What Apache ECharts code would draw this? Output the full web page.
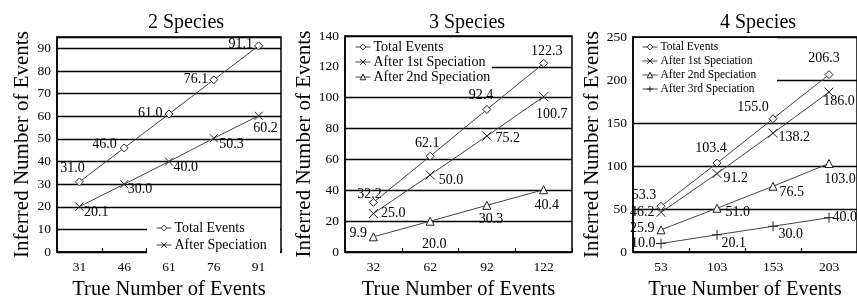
<!DOCTYPE html>
<html>
<head>
<meta charset="UTF-8">
<script src="https://cdn.jsdelivr.net/npm/echarts@6/dist/echarts.min.js"></script>
<style>
  html, body { margin: 0; padding: 0; background: #fff; }
  #chart { width: 857px; height: 305px; }
</style>
</head>
<body>
<div id="chart"></div>
<script>
// 2 species
var cats2 = ['31', '46', '61', '76', '91'];
var total2 = [31.0, 46.0, 61.0, 76.1, 91.1];
var after2 = [20.1, 30.0, 40.0, 50.3, 60.2];
// 3 species
var cats3 = ['32', '62', '92', '122'];
var total3 = [32.2, 62.1, 92.4, 122.3];
var first3 = [25.0, 50.0, 75.2, 100.7];
var second3 = [9.9, 20.0, 30.3, 40.4];
// 4 species
var cats4 = ['53', '103', '153', '203'];
var total4 = [53.3, 103.4, 155.0, 206.3];
var first4 = [46.2, 91.2, 138.2, 186.0];
var second4 = [25.9, 51.0, 76.5, 103.0];
var third4 = [10.0, 20.1, 30.0, 40.0];

var FONT = 'Liberation Serif';
var INK = '#000';
var LINE = '#444';

var crossPath = 'path://M0,0L10,10M10,0L0,10';
var plusPath = 'path://M5,0L5,10M0,5L10,5';

// label placement per point: [position, dx, dy, gap from point centre]
var lab = {
  total2: [['top', -7, 0, 6], ['left', 0, -4, 7], ['left', 0, -1, 6], ['left', 0, 0, 5], ['left', 0, -2, 5]],
  after2: [['right', 0, 6, 4], ['right', 0, 5, 3], ['right', 0, 6, 4], ['right', 0, 6, 5], ['bottom', 7, 0, 5.5]],
  total3: [['top', -4, 0, 1], ['top', -3, 0, 5.5], ['top', -6, 0, 7], ['top', 3, 0, 4]],
  first3: [['right', 0, 0, 7], ['right', 0, 5, 8], ['right', 0, 2, 8], ['bottom', 8, 0, 10]],
  second3: [['left', 0, -3, 6], ['bottom', 4, 0, 16], ['bottom', 4, 0, 6], ['bottom', 3, 0, 8]],
  total4: [['top', -17, 0, 3], ['top', -6, 0, 7], ['top', -20, 0, 3.5], ['top', -5, 0, 8.5]],
  first4: [['left', 0, 0, 6], ['right', 0, 5, 6], ['right', 0, 4, 5], ['bottom', 10, 0, 2]],
  second4: [['left', 0, -1, 6], ['right', 0, 4, 8], ['right', 0, 6, 6], ['bottom', 11, 0, 8.5]],
  third4: [['left', 0, 0, 5], ['right', 0, 9, 4], ['right', 0, 8, 5], ['right', 0, 0, 3]]
};

function points(values, place, size) {
  return values.map(function (v, i) {
    var p = place[i];
    return {
      value: v,
      label: { position: p[0], offset: [p[1], p[2]], distance: p[3] - size / 2 }
    };
  });
}

function line(name, idx, values, place, symbol, size) {
  return {
    name: name,
    type: 'line',
    xAxisIndex: idx,
    yAxisIndex: idx,
    data: points(values, place, size),
    symbol: symbol,
    symbolSize: size,
    showAllSymbol: true,
    lineStyle: { color: LINE, width: 1 },
    itemStyle: { color: '#fff', borderColor: '#222', borderWidth: 1 },
    label: {
      show: true,
      color: INK,
      fontFamily: FONT,
      fontSize: 14,
      formatter: function (p) { return p.value.toFixed(1); }
    },
    emphasis: { disabled: true },
    z: 3
  };
}

var grids = [
  { left: 57, top: 37, width: 224, height: 221 },
  { left: 345, top: 36, width: 227, height: 221 },
  { left: 633, top: 37, width: 230, height: 222 }
];
grids.forEach(function (g) {
  g.show = true;
  g.borderColor = INK;
  g.borderWidth = 1.5;
  g.backgroundColor = 'transparent';
});

function xAx(idx, cats, gap) {
  return {
    type: 'category',
    gridIndex: idx,
    data: cats,
    boundaryGap: true,
    name: 'True Number of Events',
    nameLocation: 'middle',
    nameGap: gap,
    nameTextStyle: { fontFamily: FONT, fontSize: 20.5, color: INK },
    axisLine: { lineStyle: { color: INK, width: 1.5 } },
    axisTick: { show: true, inside: true, length: 4, lineStyle: { color: INK, width: 1.2 } },
    axisLabel: { fontFamily: FONT, fontSize: 13.5, color: INK, margin: 8 },
    splitLine: { show: false }
  };
}

function yAx(idx, max, interval, gap) {
  return {
    type: 'value',
    gridIndex: idx,
    min: 0,
    max: max,
    interval: interval,
    name: 'Inferred Number of Events',
    nameLocation: 'middle',
    nameGap: gap,
    nameTextStyle: { fontFamily: FONT, fontSize: 21, color: INK },
    axisLine: { show: true, lineStyle: { color: INK, width: 1.5 } },
    axisTick: { show: false },
    axisLabel: { fontFamily: FONT, fontSize: 13.5, color: INK, margin: 6, showMaxLabel: max % interval === 0 },
    splitLine: { show: true, lineStyle: { color: INK, width: 1.3 } }
  };
}

function titleAt(text, x) {
  return {
    text: text,
    left: x,
    top: 8,
    textAlign: 'center',
    textStyle: { fontFamily: FONT, fontSize: 20, fontWeight: 'normal', color: INK }
  };
}

function legendAt(names, left, top, fontSize, gap) {
  return {
    data: names,
    orient: 'vertical',
    left: left,
    top: top,
    padding: 0,
    itemGap: gap,
    itemWidth: 15,
    itemHeight: 7,
    selectedMode: false,
    itemStyle: { color: '#fff', borderColor: '#222', borderWidth: 1 },
    lineStyle: { color: LINE, width: 1 },
    textStyle: { fontFamily: FONT, fontSize: fontSize, color: INK, padding: [0, 0, 0, -2] },
    z: 4
  };
}

// white patches behind the legends, hiding the grid lines there
function patch(x, y, w, h) {
  return { type: 'rect', left: x, top: y, z: 1, silent: true,
    shape: { width: w, height: h }, style: { fill: '#fff' } };
}

var chart = echarts.init(document.getElementById('chart'), null, { renderer: 'canvas' });
chart.setOption({
  animation: false,
  backgroundColor: '#fff',
  title: [titleAt('2 Species', 181), titleAt('3 Species', 462), titleAt('4 Species', 753)],
  legend: [
    legendAt(['Total Events', 'After Speciation'], 156, 221, 14, 3),
    legendAt(['Total Events', 'After 1st Speciation', 'After 2nd Speciation'], 355, 40, 14, 1),
    legendAt(['Total Events', 'After 1st Speciation', 'After 2nd Speciation', 'After 3rd Speciation'], 642, 41, 11.5, 2)
  ],
  graphic: [patch(147, 217, 133, 38), patch(346, 38, 146, 48), patch(634, 38, 143, 57)],
  grid: grids,
  xAxis: [xAx(0, cats2, 22), xAx(1, cats3, 23), xAx(2, cats4, 24)],
  yAxis: [yAx(0, 95, 10, 24), yAx(1, 140, 20, 27), yAx(2, 250, 50, 30)],
  series: [
    line('Total Events', 0, total2, lab.total2, 'diamond', 8),
    line('After Speciation', 0, after2, lab.after2, crossPath, 8),
    line('Total Events', 1, total3, lab.total3, 'diamond', 8),
    line('After 1st Speciation', 1, first3, lab.first3, crossPath, 9),
    line('After 2nd Speciation', 1, second3, lab.second3, 'triangle', 8),
    line('Total Events', 2, total4, lab.total4, 'diamond', 8),
    line('After 1st Speciation', 2, first4, lab.first4, crossPath, 9),
    line('After 2nd Speciation', 2, second4, lab.second4, 'triangle', 8),
    line('After 3rd Speciation', 2, third4, lab.third4, plusPath, 10)
  ]
});
</script>
</body>
</html>
